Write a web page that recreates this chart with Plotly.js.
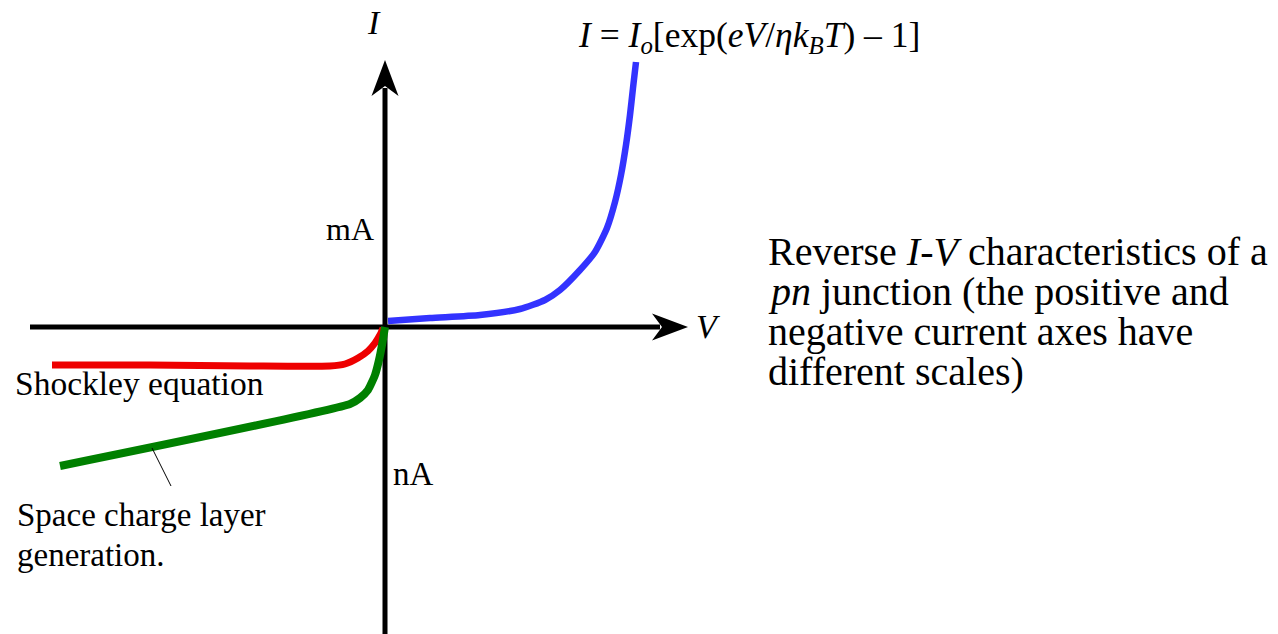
<!DOCTYPE html>
<html>
<head>
<meta charset="utf-8">
<script src="https://cdn.plot.ly/plotly-3.0.1.min.js"></script>
<style>
  html, body { margin: 0; padding: 0; background: #fff; }
  #chart { width: 1278px; height: 634px; }
</style>
</head>
<body>
<div id="chart"></div>
<script>
// Sketch of a pn junction I-V characteristic, in diagram units
// (origin where the V and I axes cross, I positive upward).

// Forward branch: exponential rise (mA scale)
const forwardV = [3, 45, 95, 135, 160, 175, 195, 210, 222, 230, 236, 241, 245, 248, 251];
const forwardI = [6, 9, 12, 18, 27, 37, 57, 75, 99, 125, 152, 182, 212, 239, 265];

// Reverse branch, ideal Shockley saturation (nA scale)
const shockleyV = [-333, -235, -135, -55, -40, -27, -17, -10, -5, -2];
const shockleyI = [-38, -38, -39, -39, -37, -31, -24, -16, -8, -1];

// Reverse branch with space charge layer generation current
const generationV = [-325, -35, -25, -17, -10, -6, -3, -1, 0];
const generationI = [-139, -77, -71, -63, -48, -33, -18, -6, 0];

// Axis extents and arrow tips
const vAxisStart = -355, vAxisTip = 303;
const iAxisStart = -310, iAxisTip = 267;

const serif = "'Liberation Serif', 'Times New Roman', Times, serif";

const traces = [
  { x: forwardV, y: forwardI, mode: 'lines', line: { color: '#3333ff', width: 6.5, shape: 'spline', smoothing: 0.6 }, hoverinfo: 'skip' },
  { x: shockleyV, y: shockleyI, mode: 'lines', line: { color: '#ee0000', width: 7, shape: 'spline', smoothing: 0.6 }, hoverinfo: 'skip' },
  { x: generationV, y: generationI, mode: 'lines', line: { color: '#008000', width: 8, shape: 'spline', smoothing: 0.5 }, hoverinfo: 'skip' }
];

// Stealth-style arrowhead pointing along +x or +y from its tip
function arrowHead(tipX, tipY, dir) {
  const len = 36, half = 13.5, notch = 26;
  let p;
  if (dir === 'x') {
    p = `M${tipX},${tipY} L${tipX - len},${tipY + half} L${tipX - notch},${tipY} L${tipX - len},${tipY - half} Z`;
  } else {
    p = `M${tipX},${tipY} L${tipX - half},${tipY - len} L${tipX},${tipY - notch} L${tipX + half},${tipY - len} Z`;
  }
  return { type: 'path', xref: 'x', yref: 'y', path: p, fillcolor: '#000', line: { width: 0 }, layer: 'above' };
}

const shapes = [
  { type: 'line', xref: 'x', yref: 'y', x0: vAxisStart, y0: 0, x1: vAxisTip - 28, y1: 0, line: { color: '#000', width: 5 }, layer: 'below' },
  { type: 'line', xref: 'x', yref: 'y', x0: 0, y0: iAxisStart, x1: 0, y1: iAxisTip - 28, line: { color: '#000', width: 5 }, layer: 'below' },
  arrowHead(vAxisTip, 0, 'x'),
  arrowHead(0, iAxisTip, 'y'),
  // leader from the generation label to its curve
  { type: 'line', xref: 'x', yref: 'y', x0: -233, y0: -121, x1: -214, y1: -159, line: { color: '#000', width: 1 } }
];

function label(text, x, y, size, xanchor, italic) {
  return {
    xref: 'x', yref: 'y', x: x, y: y, text: text, showarrow: false,
    xanchor: xanchor, yanchor: 'middle',
    font: { family: serif, size: size, color: '#000', style: italic ? 'italic' : 'normal' }
  };
}

const annotations = [
  label('I', -11, 305, 34, 'center', true),
  label('V', 323, 1, 34, 'center', true),
  label('<i>I</i> = <i>I<sub>o</sub></i>[exp(<i>eV</i>/<i>ηk<sub>B</sub>T</i>) – 1]', 191, 290, 35.5, 'left', false),
  label('mA', -9, 98, 32, 'right', false),
  label('nA', 6, -147, 33, 'left', false),
  label('Shockley equation', -372, -56, 33.5, 'left', false),
  label('Space charge layer', -370, -188, 33, 'left', false),
  label('generation.', -370, -228, 33, 'left', false),
  label('Reverse <i>I</i>-<i>V</i> characteristics of a', 381, 76, 40, 'left', false),
  label('<i>pn</i> junction (the positive and', 381, 36, 40, 'left', false),
  label('negative current axes have', 381, -4, 40, 'left', false),
  label('different scales)', 381, -44, 40, 'left', false)
];

const layout = {
  width: 1278, height: 634,
  margin: { l: 0, r: 0, t: 0, b: 0 },
  paper_bgcolor: '#fff', plot_bgcolor: '#fff',
  showlegend: false,
  xaxis: { range: [-385, 893], visible: false, fixedrange: true },
  yaxis: { range: [-307, 327], visible: false, fixedrange: true },
  shapes: shapes,
  annotations: annotations
};

Plotly.newPlot('chart', traces, layout, { staticPlot: true, displayModeBar: false });
</script>
</body>
</html>
